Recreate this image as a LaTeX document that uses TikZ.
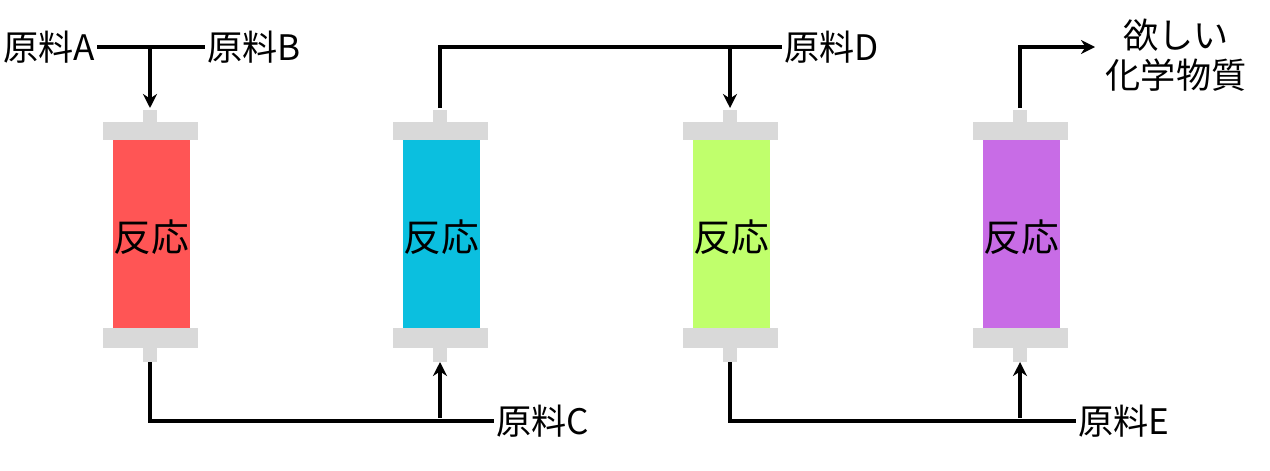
\documentclass[tikz,border=0pt]{standalone}
\usepackage{fontspec}
\setmainfont{Noto Sans CJK JP}
\usetikzlibrary{positioning, arrows.meta}

\definecolor{capgray}{HTML}{D9D9D9}
\definecolor{rred}{HTML}{FF5555}
\definecolor{rcyan}{HTML}{0BBFDF}
\definecolor{rgreen}{HTML}{C0FF6C}
\definecolor{rpurple}{HTML}{C86CE6}

\tikzset{
  pipe/.style={line width=2.4pt},
  flow/.style={pipe, -{Stealth[length=8pt,width=8pt]}},
  label/.style={font=\fontsize{20}{23}\selectfont, inner sep=1pt},
}

% reactor: center x, fill colour, name
\newcommand{\reactor}[3]{
  \fill[capgray] (#1-7,110) rectangle (#1+7,122);
  \fill[capgray] (#1-47,122) rectangle (#1+48,140);
  \fill[#2] (#1-37,140) rectangle (#1+40,328);
  \fill[capgray] (#1-47,328) rectangle (#1+48,348);
  \fill[capgray] (#1-7,348) rectangle (#1+7,362);
  \node[font=\fontsize{21.5}{24}\selectfont] (#3) at (#1+1,237) {反応};
  \coordinate (#3top) at (#1,108);
  \coordinate (#3bot) at (#1,362);
}

\begin{document}
\begin{tikzpicture}[x=0.02cm, y=-0.02cm]
\useasboundingbox (0,0) rectangle (1270,470);

\reactor{150}{rred}{r1}
\reactor{440}{rcyan}{r2}
\reactor{730}{rgreen}{r3}
\reactor{1020}{rpurple}{r4}

\node[label, anchor=east] (srcA) at (97,47) {原料A};
\node[label, anchor=west] (srcB) at (205,47) {原料B};
\node[label, anchor=west] (srcC) at (494,421) {原料C};
\node[label, anchor=west] (srcD) at (782,47) {原料D};
\node[label, anchor=west] (srcE) at (1076,421) {原料E};
\node[label, align=center] (prod) at (1176,55) {欲しい\\化学物質};

\coordinate (jAB) at (150,47);
\coordinate (jD) at (730,47);
\coordinate (jC) at (440,418);
\coordinate (jE) at (1020,418);
\coordinate (out) at (1095,47);

\draw[pipe] (srcA) -- (srcB);
\draw[flow] (jAB) -- (r1top);
\draw[pipe] (r1bot) |- (srcC);
\draw[flow] (jC) -- (r2bot);
\draw[pipe] (r2top) |- (srcD);
\draw[flow] (jD) -- (r3top);
\draw[pipe] (r3bot) |- (srcE);
\draw[flow] (jE) -- (r4bot);
\draw[flow] (r4top) |- (out);
\end{tikzpicture}
\end{document}
